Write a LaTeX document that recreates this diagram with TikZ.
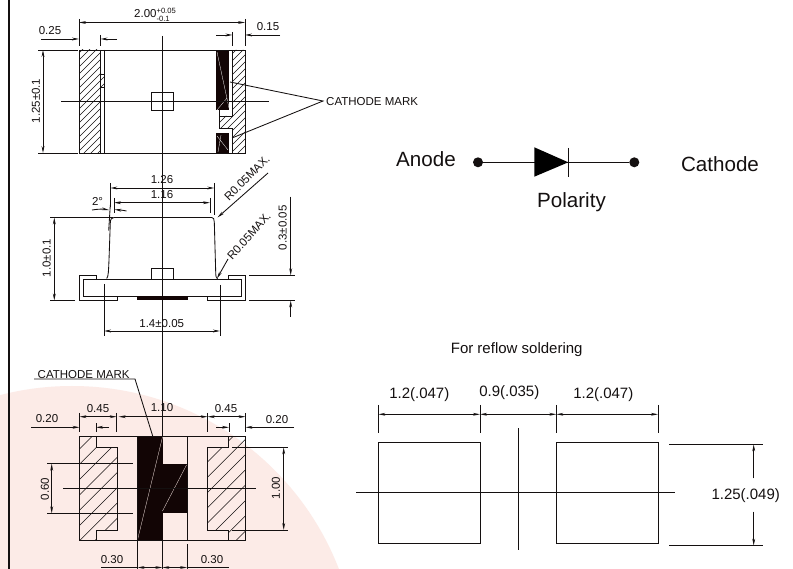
\documentclass[tikz,border=0pt]{standalone}
\usepackage{fontspec}
\setmainfont{Liberation Sans}
\usetikzlibrary{arrows.meta}
\definecolor{wm}{HTML}{FCEBE7}
\definecolor{ink}{HTML}{141010}
\definecolor{mk}{HTML}{120505}
\tikzset{
  ln/.style={draw=ink,line width=0.85pt},
  hatch/.style={draw=ink,line width=0.55pt},
  dimb/.style={ln,{Stealth[length=7pt,width=2.8pt]}-{Stealth[length=7pt,width=2.8pt]}},
  dima/.style={ln,-{Stealth[length=7pt,width=2.8pt]}},
  lab/.style={inner sep=0pt,font=\fontsize{11.5}{13}\selectfont,text=ink},
  lbl/.style={inner sep=0pt,font=\fontsize{15}{17}\selectfont,text=ink},
  big/.style={inner sep=0pt,font=\fontsize{20.6}{23}\selectfont,text=ink},
}
\newcommand{\hatchfill}[3]{%
  \begin{scope}\clip #1;
    \foreach \k in {#2,#3,...,360}{\draw[hatch] (\k,569) -- +(569,-569);}
  \end{scope}}
\begin{document}
\begin{tikzpicture}[x=1pt,y=-1pt]
\useasboundingbox (0,0) rectangle (793,569);
\fill[white] (0,0) rectangle (793,569);
\begin{scope}
  \clip (0,0) rectangle (793,569);
  \fill[wm] (72,672) circle[radius=286];
\end{scope}
% frame line
\draw[ink,line width=2pt] (8.5,0) -- (8.5,569);
% main centre line
\draw[ln] (162.3,36) -- (162.3,569);

% ---------- top view ----------
\hatchfill{(79,50) rectangle (100.5,153)}{-500}{-493}
\hatchfill{(100.5,74) rectangle (104.5,87)}{-500}{-493}
\hatchfill{(232.5,50) -- (245,50) -- (245,153) -- (232.5,153) -- (232.5,128) -- (220,128) -- (220,116) -- (232.5,116) -- cycle}{-500}{-493}
\fill[mk] (216,50) rectangle (229,110);
\fill[mk] (216,133.5) rectangle (229,153);
\draw[white,line width=0.3pt] (217,52) -- (229,108) (217,110) -- (227,98) (217,136) -- (228,150) (218,152) -- (221,135);
\draw[ln] (79,50) rectangle (245,153);
\draw[ln] (100.5,50) -- (100.5,153) (104.5,50) -- (104.5,74) -- (100.5,74) (104.5,74) -- (104.5,153) (100.5,87) -- (104.5,87);
\draw[ln] (232.5,50) -- (232.5,116) -- (219.5,116) (219.5,110) -- (219.5,128) -- (232.5,128) -- (232.5,153);
\draw[ln] (151.5,92) rectangle (173,110.5);
\draw[ln] (61,101) -- (269,101);
% top dims
\draw[ln] (79,19) -- (79,46) (245,19) -- (245,46);
\draw[dimb] (79,22.5) -- (245,22.5);
\node[lab,anchor=west] (d200) at (134,15) {2.00\rlap{\raisebox{3.8pt}{\fontsize{7.6}{8}\selectfont +0.05}}\raisebox{-4.5pt}{\fontsize{7.6}{8}\selectfont -0.1}};
\node[lab] (d025) at (50,31) {0.25};
\draw[dima] (41,39) -- (79,39);
\draw[dima] (117,39) -- (100.5,39);
\draw[ln] (100.5,35) -- (100.5,46);
\node[lab] (d015) at (268,27) {0.15};
\draw[dima] (216,35) -- (232.5,35);
\draw[dima] (280,35) -- (245,35);
\draw[ln] (232.5,32) -- (232.5,46);
\draw[ln] (38,50) -- (78,50) (38,153) -- (78,153);
\draw[dimb] (43,50) -- (43,153);
\node[lab,rotate=90] (d125) at (36,101) {1.25±0.1};
\coordinate (cmk) at (323,101);
\draw[ln] (230,82) -- (cmk) -- (232,138);
\node[lab,anchor=west] (cm1) at (326,102) {CATHODE MARK};

% ---------- side view ----------
\draw[ln] (106.7,278.5) .. controls (108.5,277) and (108.5,270) .. (109,260) -- (110.3,223) .. controls (110.5,219) and (111.5,217.5) .. (114,217.5) -- (211.7,217.5) .. controls (213.5,217.5) and (214.2,219) .. (214.3,222) -- (215.7,272) .. controls (215.8,276) and (216,278) .. (217.5,279);
\draw[ln] (83.5,279.3) rectangle (241,296);
\draw[ln] (96,279.3) -- (96,275.3) -- (79.7,275.3) -- (79.7,300) -- (117.3,300) -- (117.3,296);
\draw[ln] (228.7,279.3) -- (228.7,275.3) -- (245.3,275.3) -- (245.3,300) -- (207.7,300) -- (207.7,296);
\draw[ln] (151.7,279.3) -- (151.7,268.3) -- (173.3,268.3) -- (173.3,279.3);
\fill[mk] (137.3,296.5) rectangle (187.7,300.3);
\draw[ln] (50,217.5) -- (113,217.5);
\draw[ln] (110.3,183) -- (110.3,207) (214.3,183) -- (214.3,215);
\draw[dimb] (110.3,188) -- (214.3,188);
\node[lab] (d126) at (162,180) {1.26};
\draw[ln] (114,198) -- (114,213) (210,198) -- (210,213);
\draw[dimb] (114,202.7) -- (210,202.7);
\node[lab] (d116) at (162,195) {1.16};
\node[lab] (d2) at (97.5,201) {2°};
\draw[ln] (110.3,205) -- (108.7,230.7);
\draw[dima] (92,210) .. controls (98,209) and (103,209) .. (109,210);
\draw[dima] (126.5,211) .. controls (122,210) and (119,210) .. (114.5,209.5);
\coordinate (r1) at (268,173);
\coordinate (r1t) at (217.5,217.5);
\draw[dima] (r1) -- (r1t);
\node[lab,rotate=45] (rt) at (247,178) {R0.05MAX.};
\coordinate (r2) at (228,259);
\coordinate (r2t) at (217,278.5);
\draw[dima] (r2) -- (r2t);
\node[lab,rotate=48] (rb) at (249,236) {R0.05MAX.};
\draw[ln] (50,300.5) -- (75,300.5);
\draw[dimb] (54.3,217.5) -- (54.3,300.5);
\node[lab,rotate=90] (d10) at (46.7,258) {1.0±0.1};
\draw[ln] (104,284) -- (104,335.7) (220,285) -- (220,335.7);
\draw[dimb] (104,331) -- (220,331);
\node[lab] (d14) at (161.7,324) {1.4±0.05};
\draw[ln] (249,275.3) -- (295,275.3) (249,300.5) -- (295,300.5);
\draw[dima] (290.7,196.7) -- (290.7,275.3);
\draw[dima] (290.7,316.7) -- (290.7,300.5);
\node[lab,rotate=90] (d03) at (282.7,227.7) {0.3±0.05};

% ---------- bottom view ----------
\hatchfill{(79.5,436.7) -- (96,436.7) -- (96,447.3) -- (117,447.3) -- (117,530) -- (96,530) -- (96,540) -- (79.5,540) -- cycle}{-499.5}{-484.2}
\hatchfill{(245.5,436.7) -- (228.7,436.7) -- (228.7,447.3) -- (207.7,447.3) -- (207.7,530) -- (228.7,530) -- (228.7,540) -- (245.5,540) -- cycle}{-496.3}{-481}
\fill[mk] (137.5,436.7) rectangle (162.5,540);
\fill[mk] (162.5,464) rectangle (187,513.3);
\draw[wm,line width=0.3pt] (137.5,540) -- (162.5,437) (162.5,511) -- (186.5,465);
\draw[ln] (79.5,436.7) rectangle (245.5,540);
\draw[ln] (96,436.7) -- (96,447.3) -- (117,447.3) -- (117,530) -- (96,530) -- (96,540);
\draw[ln] (228.7,436.7) -- (228.7,447.3) -- (207.7,447.3) -- (207.7,530) -- (228.7,530) -- (228.7,540);
\draw[ln] (187,436.7) -- (187,540) (187,544) -- (187,569) (137.5,436.7) -- (137.5,569);
\draw[ln] (63,488.7) -- (256,488.7);
\node[lab,anchor=west] (cm2) at (37.5,375) {CATHODE MARK};
\coordinate (u1) at (34,379);
\coordinate (u2) at (135,379);
\coordinate (u3) at (153,437);
\draw[ln] (u1) -- (u2) -- (u3);
\draw[ln] (79.5,413) -- (79.5,432) (116.7,413) -- (116.7,432) (207.7,413) -- (207.7,432) (245.5,413) -- (245.5,432);
\draw[dimb] (79.5,416.7) -- (116.7,416.7);
\draw[dimb] (118.7,416.7) -- (207.7,416.7);
\draw[dimb] (207.7,416.7) -- (245.5,416.7);
\node[lab] (d45a) at (98,409) {0.45};
\node[lab] (d110) at (162,408) {1.10};
\node[lab] (d45b) at (226,409) {0.45};
\node[lab] (d20a) at (47,419) {0.20};
\draw[dima] (31,427.3) -- (79.5,427.3);
\draw[dima] (109,427.3) -- (96,427.3);
\draw[ln] (96,423) -- (96,432);
\node[lab] (d20b) at (277,420) {0.20};
\draw[dima] (216,427.3) -- (229,427.3);
\draw[dima] (294,427.3) -- (245.5,427.3);
\draw[ln] (229,423) -- (229,432);
\draw[ln] (47,463.7) -- (133,463.7) (47,513.3) -- (133,513.3);
\draw[dimb] (51.7,463.7) -- (51.7,513.3);
\node[lab,rotate=90] (d60) at (45,489) {0.60};
\draw[ln] (232,447.3) -- (288,447.3) (232,530) -- (288,530);
\draw[dimb] (283.7,447.3) -- (283.7,530);
\node[lab,rotate=90] (d100) at (276,488) {1.00};
\node[lab] (d30a) at (112,560) {0.30};
\node[lab] (d30b) at (212,560) {0.30};
\draw[ln] (101,567.5) -- (137.5,567.5) (187,567.5) -- (229,567.5);
\draw[dimb] (137.5,567.5) -- (162.3,567.5);
\draw[dimb] (162.3,567.5) -- (187,567.5);

% ---------- diode ----------
\node[big] (an) at (426,159) {Anode};
\node[big] (ca) at (720,164.5) {Cathode};
\node[big] (po) at (571.5,202.5) {Polarity};
\node[circle,fill=ink,inner sep=0pt,minimum size=10pt] (pa) at (478,162.3) {};
\node[circle,fill=ink,inner sep=0pt,minimum size=10pt] (pc) at (634.3,162.3) {};
\draw[ln] (pa) -- (pc);
\fill[black] (534.3,147.3) -- (534.3,176.7) -- (568.3,162.3) -- cycle;
\draw[ln] (568.3,148) -- (568.3,176.7);

% ---------- reflow ----------
\node[lbl] (fr) at (516.7,350) {For reflow soldering};
\draw[ln] (378.3,442.3) rectangle (480,543.3);
\draw[ln] (556.3,442.3) rectangle (658,543.3);
\draw[ln] (356,492.7) -- (675,492.7);
\draw[ln] (518,428) -- (518,550);
\draw[ln] (378.3,405) -- (378.3,432.7) (480,405) -- (480,432.7) (556.3,405) -- (556.3,432.7) (658,405) -- (658,432.7);
\draw[dimb] (378.3,414.3) -- (480,414.3);
\draw[dimb] (480,414.3) -- (556.3,414.3);
\draw[dimb] (556.3,414.3) -- (658,414.3);
\node[lbl] (p1) at (419.3,394.3) {1.2(.047)};
\node[lbl] (p2) at (509.3,392.3) {0.9(.035)};
\node[lbl] (p3) at (603.3,394.3) {1.2(.047)};
\draw[ln] (669.3,444.3) -- (762.7,444.3) (669.3,545.7) -- (762.7,545.7);
\node[lbl] (p4) at (745.7,495.7) {1.25(.049)};
\draw[dima] (753.7,478.3) -- (753.7,444.3);
\draw[dima] (753.7,511.7) -- (753.7,545.7);
\end{tikzpicture}
\end{document}
